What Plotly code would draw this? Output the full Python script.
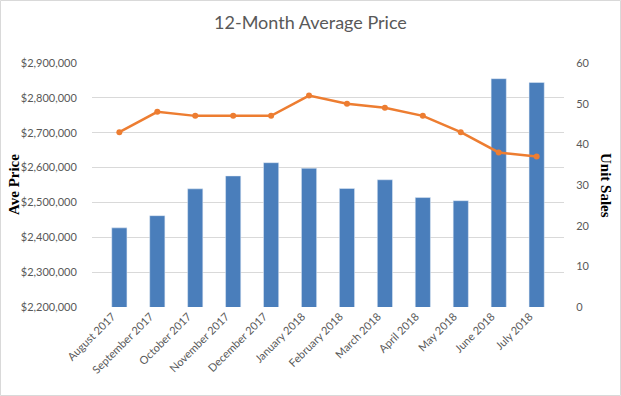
import plotly.graph_objects as go

months = ["August 2017", "September 2017", "October 2017", "November 2017", "December 2017",
          "January 2018", "February 2018", "March 2018", "April 2018", "May 2018",
          "June 2018", "July 2018"]
ave_price = [2427000, 2462000, 2539000, 2576000, 2614000, 2598000,
             2540000, 2565000, 2514000, 2505000, 2855000, 2844000]
unit_sales = [43, 48, 47, 47, 47, 52, 50, 49, 47, 43, 38, 37]

left_ticks = [2200000, 2300000, 2400000, 2500000, 2600000, 2700000, 2800000, 2900000]
left_labels = ["${:,}".format(v) for v in left_ticks]
right_ticks = [0, 10, 20, 30, 40, 50, 60]

W, H = 621, 396
L, R, T, B = 92, 57, 63, 89
pw, ph = W - L - R, H - T - B

fig = go.Figure()
fig.add_trace(go.Bar(x=months, y=ave_price, name="Ave Price", marker_color="#4A7EBB",
                     yaxis="y"))
fig.add_trace(go.Scatter(x=months, y=unit_sales, name="Unit Sales", yaxis="y2",
                         mode="lines+markers",
                         line=dict(color="#ED7D31", width=2.5),
                         marker=dict(color="#ED7D31", size=6)))

tickfont = dict(family="Lato, Liberation Sans, sans-serif", size=11, color="#595959")

fig.update_layout(
    width=W, height=H,
    margin=dict(l=L, r=R, t=T, b=B),
    paper_bgcolor="white", plot_bgcolor="white",
    showlegend=False,
    bargap=0.6,
    title=dict(text="12-Month Average Price", x=0.5, xanchor="center", y=1 - 23 / H,
               yanchor="middle",
               font=dict(family="Lato, Liberation Sans, sans-serif", size=18, color="#595959")),
    xaxis=dict(tickangle=-45, tickfont=tickfont, showgrid=False, showline=False,
               ticks="", zeroline=False, ticklabelshift=-7),
    yaxis=dict(range=[2200000, 2900000], tickvals=left_ticks, ticktext=left_labels,
               tickfont=tickfont, gridcolor="#D9D9D9", gridwidth=1, zeroline=False,
               showline=False, ticks="outside", ticklen=12, tickcolor="rgba(0,0,0,0)"),
    yaxis2=dict(range=[0, 60], tickvals=right_ticks, overlaying="y", side="right",
                tickfont=tickfont, showgrid=False, zeroline=False, showline=False,
                ticks="outside", ticklen=9, tickcolor="rgba(0,0,0,0)"),
    annotations=[
        dict(text="<b>Ave Price</b>", x=-(L - 14) / pw, y=0.5, xref="paper", yref="paper",
             textangle=-90, showarrow=False, xanchor="center", yanchor="middle",
             font=dict(family="Liberation Serif, serif", size=15, color="black")),
        dict(text="<b>Unit Sales</b>", x=1 + (606 - (W - R)) / pw, y=0.5, xref="paper",
             yref="paper", textangle=90, showarrow=False, xanchor="center", yanchor="middle",
             font=dict(family="Liberation Serif, serif", size=15, color="black")),
    ],
    shapes=[
        dict(type="rect", xref="paper", yref="paper",
             x0=-(L - 0.5) / pw, x1=1 + (R - 0.5) / pw,
             y0=-(B - 0.5) / ph, y1=1 + (T - 0.5) / ph,
             line=dict(color="#D9D9D9", width=1), fillcolor="rgba(0,0,0,0)", layer="below"),
    ],
)

fig.write_html("out.html", config={"displayModeBar": False},
               post_script="document.body.style.margin='0';document.body.style.overflow='hidden';")
